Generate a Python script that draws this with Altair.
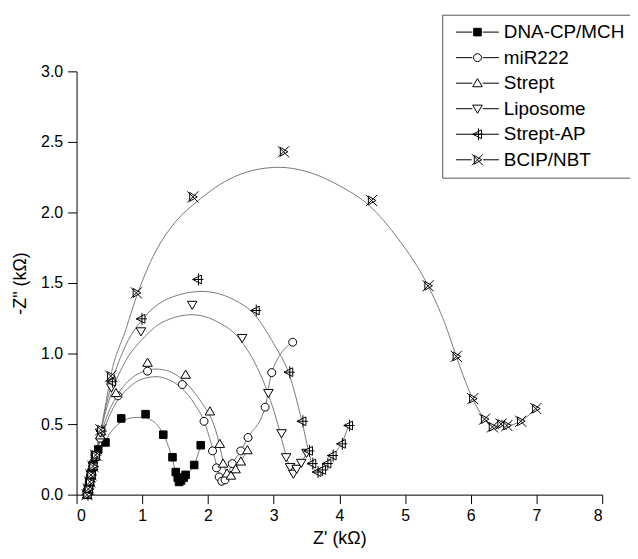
import altair as alt
import pandas as pd

series = ["DNA-CP/MCH", "miR222", "Strept", "Liposome", "Strept-AP", "BCIP/NBT"]

# ---- measured points (Z' in kOhm, -Z'' in kOhm) ----
dna_x = [0.16, 0.17, 0.18, 0.19, 0.20, 0.21, 0.23, 0.25, 0.28, 0.33, 0.44, 0.68, 1.05, 1.32, 1.46, 1.51, 1.54, 1.56, 1.59, 1.63, 1.66, 1.79, 1.89]
dna_y = [0.00, 0.02, 0.04, 0.06, 0.09, 0.12, 0.16, 0.21, 0.27, 0.32, 0.37, 0.54, 0.57, 0.425, 0.265, 0.16, 0.12, 0.09, 0.10, 0.12, 0.14, 0.21, 0.35]

mir_x = [0.16, 0.18, 0.20, 0.22, 0.25, 0.29, 0.36, 0.63, 1.08, 1.61, 1.94, 2.07, 2.13, 2.17, 2.21, 2.26, 2.37, 2.50, 2.61, 2.87, 2.97, 3.29]
mir_y = [0.00, 0.04, 0.09, 0.14, 0.20, 0.27, 0.40, 0.70, 0.875, 0.78, 0.52, 0.31, 0.19, 0.125, 0.095, 0.105, 0.22, 0.31, 0.405, 0.62, 0.865, 1.08]

str_x = [0.16, 0.18, 0.20, 0.22, 0.25, 0.29, 0.36, 0.60, 1.08, 1.66, 2.03, 2.18, 2.23, 2.29, 2.35, 2.42, 2.50, 2.60]
str_y = [0.00, 0.04, 0.09, 0.14, 0.20, 0.27, 0.42, 0.72, 0.935, 0.85, 0.59, 0.36, 0.22, 0.15, 0.135, 0.18, 0.235, 0.315]

lip_x = [0.16, 0.18, 0.20, 0.22, 0.25, 0.29, 0.36, 0.53, 0.98, 1.76, 2.52, 2.92, 3.12, 3.19, 3.25, 3.30, 3.35, 3.42, 3.50]
lip_y = [0.00, 0.04, 0.09, 0.14, 0.20, 0.28, 0.44, 0.76, 1.157, 1.345, 1.11, 0.72, 0.435, 0.265, 0.195, 0.148, 0.183, 0.225, 0.296]

sap_x = [0.16, 0.18, 0.20, 0.22, 0.25, 0.29, 0.37, 0.53, 0.98, 1.84, 2.72, 3.23, 3.43, 3.53, 3.58, 3.66, 3.73, 3.81, 3.89, 4.03, 4.14]
sap_y = [0.00, 0.04, 0.09, 0.14, 0.20, 0.28, 0.45, 0.80, 1.246, 1.525, 1.305, 0.868, 0.52, 0.31, 0.22, 0.16, 0.175, 0.22, 0.277, 0.36, 0.49]

bcip_x = [0.16, 0.18, 0.20, 0.22, 0.25, 0.29, 0.37, 0.52, 0.91, 1.77, 3.15, 4.49, 5.35, 5.78, 6.03, 6.21, 6.33, 6.46, 6.55, 6.76, 6.99]
bcip_y = [0.00, 0.04, 0.09, 0.14, 0.20, 0.28, 0.46, 0.84, 1.43, 2.11, 2.43, 2.085, 1.48, 0.98, 0.68, 0.535, 0.48, 0.50, 0.49, 0.52, 0.61]

# ---- fitted / connecting curves ----
dna_cx = [0.16, 0.20, 0.25, 0.33, 0.44, 0.55, 0.70, 0.85, 1.00, 1.15, 1.30, 1.40, 1.47, 1.52, 1.56, 1.66, 1.79, 1.89]
dna_cy = [0.00, 0.09, 0.20, 0.31, 0.385, 0.46, 0.52, 0.545, 0.548, 0.525, 0.445, 0.34, 0.23, 0.14, 0.09, 0.14, 0.21, 0.35]

mir_cx = [0.16, 0.20, 0.25, 0.30, 0.36, 0.45, 0.60, 0.80, 1.00, 1.21, 1.40, 1.60, 1.80, 1.94, 2.05, 2.13, 2.19, 2.21, 2.26, 2.37, 2.50, 2.61, 2.87, 2.97, 3.29]
mir_cy = [0.00, 0.09, 0.20, 0.29, 0.38, 0.50, 0.65, 0.76, 0.82, 0.836, 0.815, 0.755, 0.64, 0.52, 0.36, 0.21, 0.11, 0.095, 0.105, 0.22, 0.31, 0.405, 0.62, 0.865, 1.08]

str_cx = [0.16, 0.20, 0.25, 0.30, 0.36, 0.45, 0.60, 0.80, 1.00, 1.21, 1.40, 1.60, 1.80, 1.95, 2.05, 2.14, 2.20, 2.25, 2.29, 2.35, 2.42, 2.50, 2.60]
str_cy = [0.00, 0.09, 0.20, 0.30, 0.41, 0.54, 0.69, 0.81, 0.87, 0.89, 0.875, 0.82, 0.72, 0.62, 0.54, 0.42, 0.30, 0.20, 0.15, 0.135, 0.18, 0.235, 0.315]

lip_cx = [0.16, 0.20, 0.25, 0.30, 0.36, 0.45, 0.53, 0.75, 1.00, 1.30, 1.76, 2.10, 2.52, 2.75, 2.92, 3.05, 3.14, 3.22, 3.27, 3.30, 3.35, 3.42, 3.50]
lip_cy = [0.00, 0.09, 0.20, 0.30, 0.43, 0.60, 0.72, 0.95, 1.10, 1.22, 1.275, 1.235, 1.08, 0.90, 0.71, 0.52, 0.36, 0.23, 0.17, 0.148, 0.183, 0.225, 0.296]

sap_cx = [0.16, 0.20, 0.25, 0.30, 0.37, 0.45, 0.53, 0.75, 1.00, 1.40, 1.91, 2.40, 2.72, 3.00, 3.23, 3.43, 3.53, 3.58, 3.66, 3.73, 3.81, 3.89, 4.03, 4.14]
sap_cy = [0.00, 0.09, 0.20, 0.31, 0.45, 0.63, 0.78, 1.06, 1.24, 1.39, 1.44, 1.38, 1.27, 1.07, 0.86, 0.52, 0.31, 0.22, 0.16, 0.175, 0.22, 0.277, 0.36, 0.49]

bcip_cx = [0.16, 0.20, 0.25, 0.30, 0.37, 0.45, 0.52, 0.75, 0.91, 1.20, 1.50, 1.84, 2.30, 2.70, 3.08, 3.50, 4.00, 4.45, 4.90, 5.35, 5.60, 5.78, 5.92, 6.03, 6.21, 6.33, 6.46, 6.55, 6.76, 6.99]
bcip_cy = [0.00, 0.09, 0.20, 0.32, 0.46, 0.66, 0.84, 1.17, 1.40, 1.72, 1.93, 2.08, 2.23, 2.30, 2.32, 2.29, 2.19, 2.05, 1.81, 1.48, 1.22, 0.98, 0.80, 0.68, 0.535, 0.48, 0.50, 0.49, 0.52, 0.61]

x_ticks = [i * 0.5 for i in range(17)]
y_ticks = [i * 0.25 for i in range(13)]

# ---- symbol shapes (unit box paths) ----
sq = "M-0.95,-0.95H0.95V0.95H-0.95Z"
circ = "M-1,0A1,1 0 1,0 1,0A1,1 0 1,0 -1,0Z"
tup = "M0,-1.15L1.2,0.9L-1.2,0.9Z"
tdn = "M0,1.15L1.2,-0.9L-1.2,-0.9Z"
tleft = "M-1.2,0L1,-1.1L1,1.1Z M0.25,-1.5V1.5 M-1.2,0H1.5"
bow = "M-1.4,-1.4L1.4,1.4 M-1.4,1.4L1.4,-1.4 M-0.8,-1.1L1.1,0L-0.8,1.1Z"
chart_shapes = [sq, circ, tup, tdn, tleft, bow]
gap = "M-5.4,0H-1.3 M1.3,0H5.4 "
full = "M-5.4,0H5.4 "
legend_shapes = [gap + sq, gap + circ, gap + tup, gap + tdn, full + tleft, "M-5.4,0H-1.45 M1.45,0H5.4 " + bow]
fills = ["black", "white", "white", "white", "white", "white"]
strokes = ["black"] * 6

pts_x = [dna_x, mir_x, str_x, lip_x, sap_x, bcip_x]
pts_y = [dna_y, mir_y, str_y, lip_y, sap_y, bcip_y]
cur_x = [dna_cx, mir_cx, str_cx, lip_cx, sap_cx, bcip_cx]
cur_y = [dna_cy, mir_cy, str_cy, lip_cy, sap_cy, bcip_cy]

pts = pd.DataFrame([
    {"series": s, "x": xv, "y": yv}
    for s, xs, ys in zip(series, pts_x, pts_y) for xv, yv in zip(xs, ys)
])
cur = pd.DataFrame([
    {"series": s, "x": xv, "y": yv}
    for s, xs, ys in zip(series, cur_x, cur_y) for xv, yv in zip(xs, ys)
])

FONT = "Liberation Sans"

xenc = alt.X("x:Q", scale=alt.Scale(domain=[0, 8], nice=False, zero=False),
             axis=alt.Axis(title="Z' (k\u03a9)", values=x_ticks,
                           labelExpr="datum.value % 1 === 0 ? format(datum.value, 'd') : ''",
                           tickSize={"condition": {"test": "datum.value % 1 !== 0", "value": 5}, "value": 9},
                           labelPadding=4, titlePadding=6))
yenc = alt.Y("y:Q", scale=alt.Scale(domain=[0, 3], nice=False, zero=False),
             axis=alt.Axis(title='-Z" (k\u03a9)', values=y_ticks,
                           labelExpr="datum.value % 0.5 === 0 ? format(datum.value, '.1f') : ''",
                           tickSize={"condition": {"test": "datum.value % 0.5 !== 0", "value": 5}, "value": 9},
                           labelPadding=5, titlePadding=11))

lines = alt.Chart(cur).mark_line(color="#7a7a7a", strokeWidth=1, interpolate="monotone").encode(
    x=xenc, y=yenc, detail="series:N"
)

points = alt.Chart(pts).mark_point(filled=True, stroke="black", strokeWidth=1, size=64, opacity=1).encode(
    x="x:Q", y="y:Q",
    shape=alt.Shape("series:N", scale=alt.Scale(domain=series, range=chart_shapes), legend=None),
    fill=alt.Fill("series:N", scale=alt.Scale(domain=series, range=fills), legend=None),
)

leg = alt.Legend(title=None, orient="none", legendX=368, legendY=-57, strokeColor="#555555",
                 fillColor="white", padding=8, symbolSize=64, symbolStrokeWidth=1,
                 symbolStrokeColor="black", symbolOffset=18, labelOffset=17,
                 labelFontSize=19, labelFont=FONT, labelColor="black", rowPadding=5.7,
                 labelLimit=300)

legend_layer = alt.Chart(pts).transform_filter("false").mark_point(
    filled=True, strokeWidth=1, size=64, opacity=1).encode(
    x="x:Q", y="y:Q",
    shape=alt.Shape("series:N", scale=alt.Scale(domain=series, range=legend_shapes), legend=leg),
    fill=alt.Fill("series:N", scale=alt.Scale(domain=series, range=fills), legend=leg),
    stroke=alt.Stroke("series:N", scale=alt.Scale(domain=series, range=strokes), legend=leg),
)

chart = alt.layer(lines, points, legend_layer).resolve_scale(
    shape="independent", fill="independent", stroke="independent"
).properties(
    width=529, height=426, autosize="none",
    padding={"left": 69, "top": 62, "right": 28, "bottom": 60},
).configure_view(stroke=None).configure_axis(
    grid=False, domainColor="black", tickColor="black", labelColor="black",
    titleColor="black", labelFont=FONT, titleFont=FONT, labelFontSize=16,
    titleFontSize=18, titleFontWeight="normal", domainWidth=1, tickWidth=1,
)

chart.save("out.html", embed_options={"renderer": "svg", "actions": False})
